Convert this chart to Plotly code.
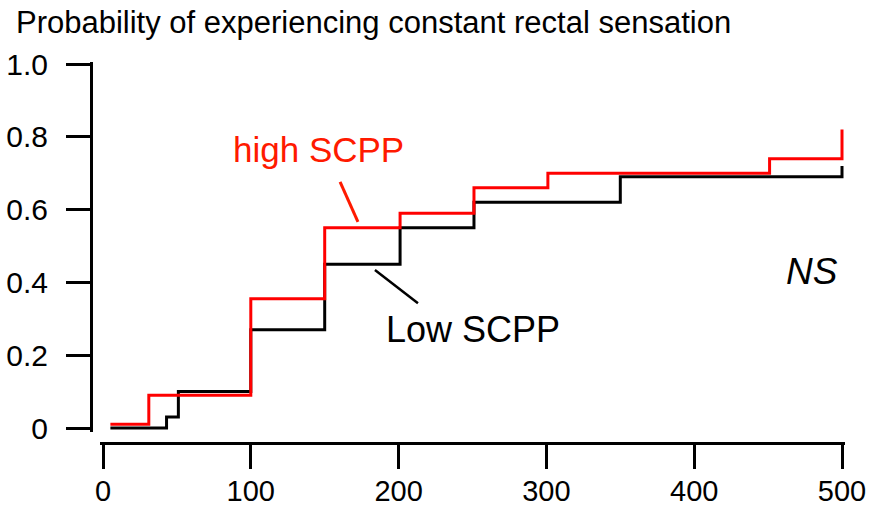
import plotly.graph_objects as go

# Step curves: each x is where a level starts, y the level held until the next x
high_x = [5, 31, 100, 150, 201, 251, 301, 451, 500, 500]
high_y = [0.01, 0.09, 0.355, 0.55, 0.59, 0.66, 0.70, 0.74, 0.74, 0.82]

low_x = [5, 43, 51, 100, 150, 201, 251, 350, 500, 500]
low_y = [0.0, 0.03, 0.10, 0.27, 0.45, 0.55, 0.62, 0.69, 0.69, 0.72]

x_ticks = [0, 100, 200, 300, 400, 500]
y_ticks = [0, 0.2, 0.4, 0.6, 0.8, 1.0]
y_tick_text = ["0", "0.2", "0.4", "0.6", "0.8", "1.0"]

W, H = 871, 513
FONT = "Liberation Sans, Arial, sans-serif"
NARROW = "Liberation Sans Narrow, Arial Narrow, Liberation Sans, sans-serif"

fig = go.Figure()
fig.add_trace(go.Scatter(x=low_x, y=low_y, mode="lines", line_shape="hv",
                         line=dict(color="black", width=3), showlegend=False))
fig.add_trace(go.Scatter(x=high_x, y=high_y, mode="lines", line_shape="hv",
                         line=dict(color="#ff0000", width=3), showlegend=False))

# leader lines from the labels to their curves
fig.add_shape(type="line", xref="x", yref="y", x0=160.4, y0=0.676, x1=172.5, y1=0.566,
              line=dict(color="#ff1a00", width=3))
fig.add_shape(type="line", xref="x", yref="y", x0=184.0, y0=0.434, x1=213.1, y1=0.343,
              line=dict(color="black", width=2.5))

fig.add_annotation(x=145.8, y=0.764, xref="x", yref="y", text="high SCPP", showarrow=False,
                   font=dict(family=FONT, size=35, color="#ff1a00"))
fig.add_annotation(x=250.5, y=0.27, xref="x", yref="y", text="Low SCPP", showarrow=False,
                   font=dict(family=FONT, size=36, color="black"))
fig.add_annotation(x=479.4, y=0.429, xref="x", yref="y", text="<i>NS</i>", showarrow=False,
                   font=dict(family=FONT, size=37, color="black"))
fig.add_annotation(x=14 / W, y=1 - 23 / H, xref="paper", yref="paper", xanchor="left",
                   yanchor="middle", showarrow=False,
                   text="Probability of experiencing constant rectal sensation",
                   font=dict(family=FONT, size=31, color="black"))

fig.update_layout(
    width=W, height=H, autosize=False,
    margin=dict(l=0, r=0, t=0, b=0, pad=0, autoexpand=False),
    paper_bgcolor="white", plot_bgcolor="white",
    xaxis=dict(
        domain=[100.04 / W, 844.96 / W], range=[-2, 502], automargin=False,
        anchor="free", position=70 / H,
        showline=True, linecolor="black", linewidth=3,
        ticks="outside", ticklen=24, tickwidth=3, tickcolor="black",
        tickvals=x_ticks, showgrid=False, zeroline=False,
        tickfont=dict(family=NARROW, size=29, color="black"),
        ticklabelstandoff=-3,
    ),
    yaxis=dict(
        domain=[(H - 431.64) / H, (H - 62.18) / H], range=[-0.01, 1.005], automargin=False,
        anchor="free", position=91 / W,
        showline=True, linecolor="black", linewidth=3,
        ticks="outside", ticklen=24, tickwidth=3, tickcolor="black",
        tickvals=y_ticks, ticktext=y_tick_text, showgrid=False, zeroline=False,
        tickfont=dict(family=FONT, size=30, color="black"),
        ticklabelstandoff=12,
    ),
)

# the page body keeps no default margin, so the figure fills the window exactly
fig.write_html(
    "out.html",
    post_script="document.body.style.margin='0';document.body.style.overflow='hidden';",
)
